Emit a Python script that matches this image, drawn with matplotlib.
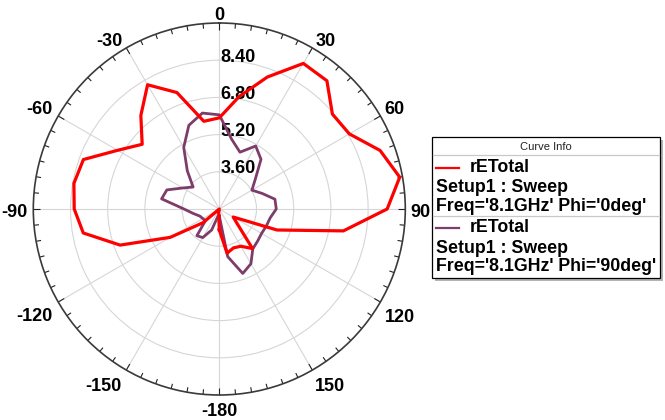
import numpy as np
import matplotlib
matplotlib.use("Agg")
import matplotlib.pyplot as plt
from matplotlib.lines import Line2D
from matplotlib.patches import Rectangle

# ---------------- data ----------------
theta_deg = [-180, -170, -160, -150, -140, -130, -120, -110, -100, -90, -80, -70,
             -60, -50, -40, -30, -20, -10, 0, 10, 20, 30, 40, 50, 60, 70, 80, 90,
             100, 110, 120, 130, 140, 150, 160, 170, 180]
retotal_phi0 = [2.90, 2.15, 2.00, 2.00, 2.00, 2.92, 4.44, 6.54, 7.94, 8.24, 8.35, 8.22,
                7.05, 6.33, 7.25, 8.17, 7.33, 5.83, 5.92, 6.91, 8.04, 9.23, 9.20, 8.35,
                8.46, 9.36, 9.88, 9.22, 7.42, 4.64, 2.69, 3.03, 4.22, 3.85, 3.78, 3.93, 2.90]
retotal_phi90 = [2.30, 2.30, 2.96, 3.42, 3.50, 2.78, 2.82, 2.89, 3.13, 3.52, 4.52, 4.40,
                 3.81, 3.47, 4.14, 5.06, 5.83, 6.19, 6.05, 5.05, 4.60, 5.13, 4.79, 4.03,
                 3.62, 3.96, 4.43, 4.45, 4.22, 4.15, 4.10, 4.15, 4.24, 4.72, 4.95, 4.08, 2.30]
r_ticks = [3.60, 5.20, 6.80, 8.40]
r_min, r_max = 2.0, 10.0
angle_ticks = [0, 30, 60, 90, 120, 150, 180, -150, -120, -90, -60, -30]
angle_labels = ["0", "30", "60", "90", "120", "150", "-180", "-150", "-120", "-90", "-60", "-30"]
legend_title = "Curve Info"
curve_names = ["rETotal", "rETotal"]
curve_setups = ["Setup1 : Sweep", "Setup1 : Sweep"]
curve_params = ["Freq='8.1GHz' Phi='0deg'", "Freq='8.1GHz' Phi='90deg'"]

# ---------------- style ----------------
W, H = 665, 420
RED = "#ff0000"
PURPLE = "#7d3c69"
FONT = "Liberation Sans"
plt.rcParams["font.family"] = [FONT, "DejaVu Sans"]

fig = plt.figure(figsize=(W / 100, H / 100), dpi=100)
cx, cy, R = 219.3, 209.0, 186.0
ax = fig.add_axes([(cx - R) / W, (H - cy - R) / H, 2 * R / W, 2 * R / H], projection="polar")
ax.set_theta_zero_location("N")
ax.set_theta_direction(-1)
ax.set_ylim(r_min, r_max)
ax.set_rticks(r_ticks)
ax.set_yticklabels([])
ax.set_xticks(np.deg2rad(np.arange(0, 360, 30)))
ax.set_xticklabels([])
ax.tick_params(axis="x", which="both", length=0)
ax.grid(True, color="#d6d6d6", linewidth=0.8)
ax.spines["polar"].set_color("#3a3a3a")
ax.spines["polar"].set_linewidth(1.2)

# tick marks along the outer circle (every 5 deg, longer every 30 deg)
px_to_r = (r_max - r_min) / R
for a in range(0, 360, 5):
    ln = 7 if a % 30 == 0 else 5
    t = np.deg2rad(a)
    ax.plot([t, t], [r_max - ln * px_to_r, r_max], color="#222222", lw=0.8,
            solid_capstyle="butt", zorder=2, clip_on=False)

th = np.deg2rad(theta_deg)
ax.plot(th, retotal_phi90, color=PURPLE, lw=2.0, zorder=5)
ax.plot(th, retotal_phi0, color=RED, lw=2.3, zorder=6)

# radial labels
for rv in r_ticks:
    ax.annotate(f"{rv:.2f}", xy=(0, rv), xytext=(1.5, 3), textcoords="offset pixels",
                ha="left", va="center", fontsize=13, fontweight="bold", zorder=3)

# angle labels: pixel offset of label centre from the outer-circle point (x right, y down)
label_offset = {0: (0, -8), 30: (13, -6), 60: (14, -6), 90: (15, 3.5),
                120: (20, 15), 150: (18, 16.5), 180: (0, 17), -150: (-22.5, 16.5),
                -120: (-23.5, 15), -90: (-18.5, 3.5), -60: (-18.5, -6), -30: (-16.5, -6)}
for a, lab in zip(angle_ticks, angle_labels):
    dx, dy = label_offset[a]
    ax.annotate(lab, xy=(np.deg2rad(a), r_max), xytext=(dx, -dy),
                textcoords="offset pixels", ha="center", va="center",
                fontsize=13, fontweight="bold", annotation_clip=False)

# ---------------- legend box ----------------
def fx(x):
    return x / W

def fy(y):
    return 1 - y / H

bx0, by0, bx1, by1 = 431.5, 136.5, 659.5, 277.5
fig.patches.append(Rectangle((fx(bx0 + 3), fy(by1 + 3)), fx(bx1 - bx0), (by1 - by0) / H,
                             transform=fig.transFigure, facecolor="#b4b4b4",
                             edgecolor="none", zorder=1))
fig.patches.append(Rectangle((fx(bx0), fy(by1)), fx(bx1 - bx0), (by1 - by0) / H,
                             transform=fig.transFigure, facecolor="white",
                             edgecolor="black", linewidth=0.9, zorder=2))
for ysep in (155, 216):
    fig.add_artist(Line2D([fx(bx0 + 1), fx(bx1 - 1)], [fy(ysep), fy(ysep)],
                          transform=fig.transFigure, color="#c8c8c8", lw=0.9, zorder=3))
fig.text(fx((bx0 + bx1) / 2), fy(146.5), legend_title, ha="center", va="center",
         fontsize=8, color="#222222", zorder=4)

blocks_y = [167.5, 228.0]
colors = [RED, PURPLE]
for y0, col, name, setup, par in zip(blocks_y, colors, curve_names, curve_setups, curve_params):
    fig.add_artist(Line2D([fx(436.5), fx(458.5)], [fy(y0), fy(y0)],
                          transform=fig.transFigure, color=col, lw=1.6, zorder=4))
    fig.text(fx(469.5), fy(y0), name, ha="left", va="center", fontsize=12.8,
             fontweight="bold", zorder=4)
    fig.text(fx(435.5), fy(y0 + 20.5), setup, ha="left", va="center", fontsize=12.8,
             fontweight="bold", zorder=4)
    fig.text(fx(435.5), fy(y0 + 38.8), par, ha="left", va="center", fontsize=12.8,
             fontweight="bold", zorder=4)

fig.savefig("out.png", dpi=100)
